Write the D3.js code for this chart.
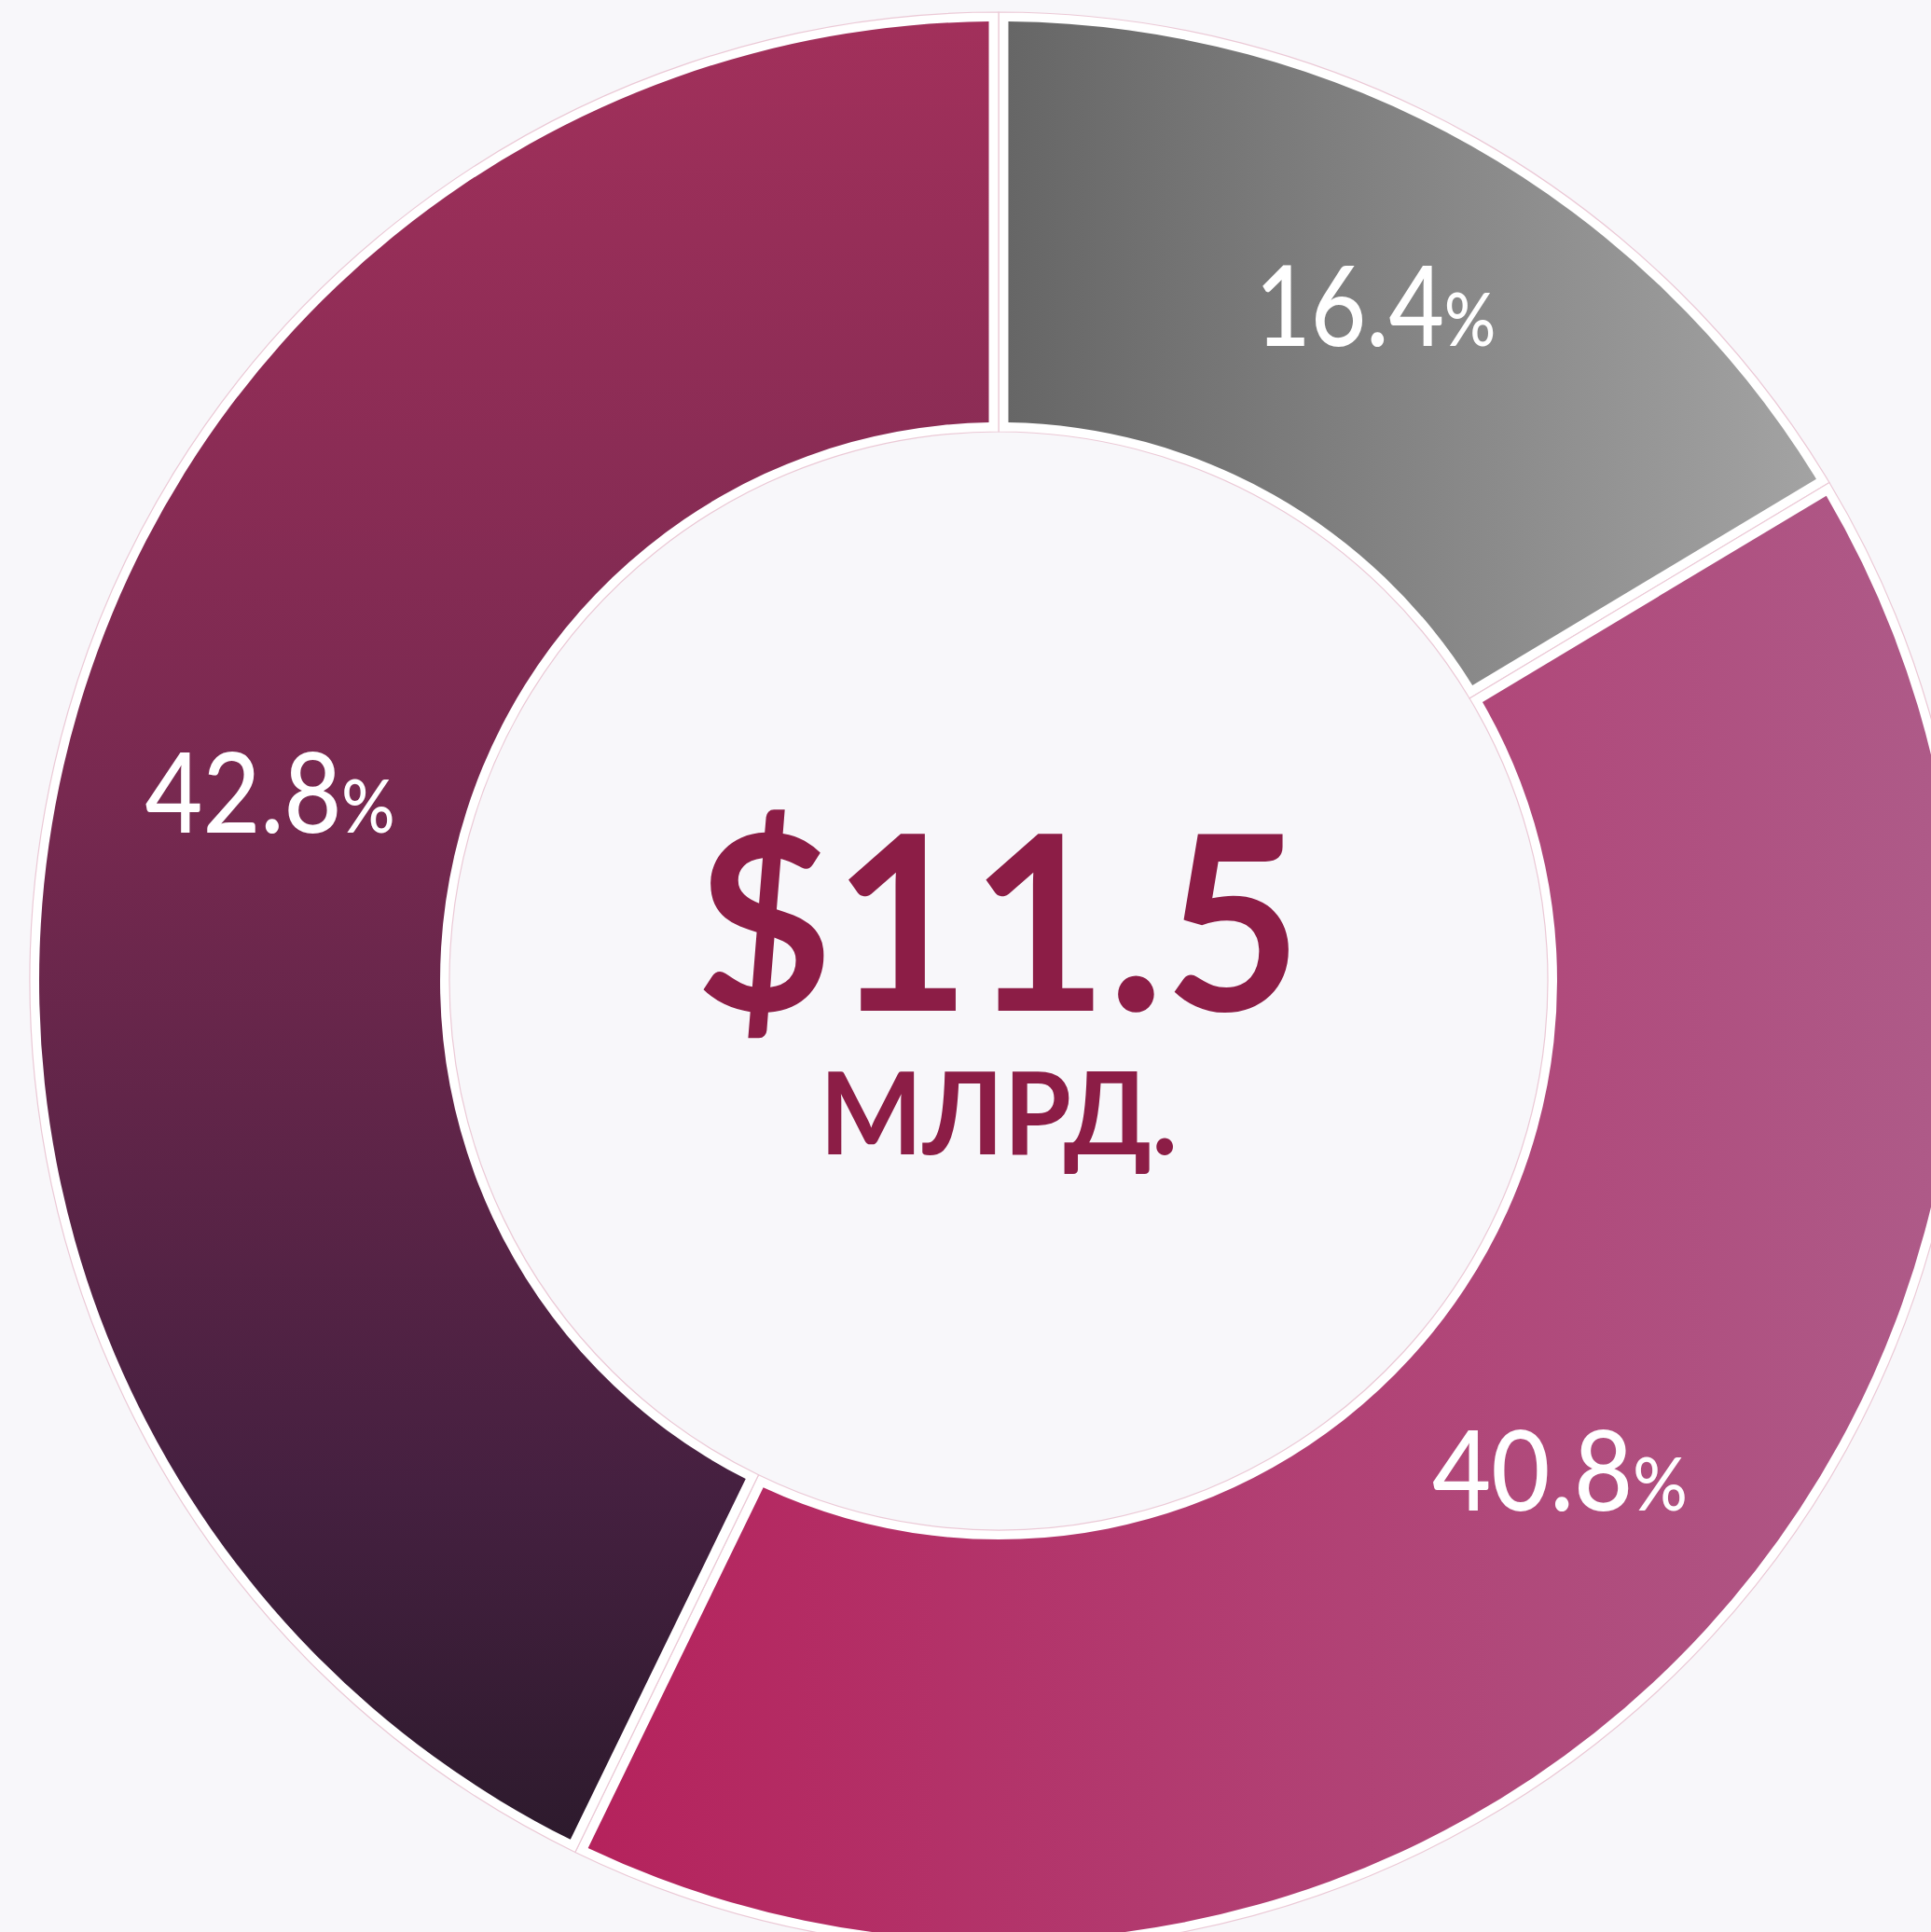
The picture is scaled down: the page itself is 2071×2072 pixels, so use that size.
<!DOCTYPE html>
<meta charset="utf-8">

<style>
html, body { margin: 0; padding: 0; background: #f8f7fa; }
svg { display: block; }
.pct { font-family: Lato, "Noto Sans", sans-serif; fill: #fff; font-weight: 500; }
.total { font-family: Lato, "Noto Sans", sans-serif; fill: #8c1d46; font-weight: 700; }
.unit { text-transform: uppercase; }
</style>

<svg width="2071" height="2072"></svg>

<script src="https://d3js.org/d3.v7.min.js"></script>

<script>

// shares of the total, clockwise from 12 o'clock
var labels = ["16.4", "40.8", "42.8"];
var shares = [16.4, 40.8, 42.8];
var fills = ["grad-gray", "grad-pink", "grad-dark"];
var totalValue = "$11.5";
var totalUnit = "млрд.";

var svg = d3.select("svg");
var width = +svg.attr("width"),
    height = +svg.attr("height");

svg.append("rect").attr("width", width).attr("height", height).attr("fill", "#f8f7fa");

var cx = 1071, cy = 1052;
var rOuter = 1039, rInner = 589, inset = 10;

var g = svg.append("g").attr("transform", "translate(" + cx + "," + cy + ")");

// gradients, in the group's own coordinates
var defs = svg.append("defs");

function linear(id, x1, y1, x2, y2, stops) {
  var lg = defs.append("linearGradient").attr("id", id)
      .attr("gradientUnits", "userSpaceOnUse")
      .attr("x1", x1).attr("y1", y1).attr("x2", x2).attr("y2", y2);
  stops.forEach(function(s) {
    lg.append("stop").attr("offset", s[0]).attr("stop-color", s[1]);
  });
}

linear("grad-gray", -20, 0, 920, 0, [[0, "#646464"], [1, "#a6a6a6"]]);
linear("grad-pink", -450, 0, 1000, 0, [[0, "#b5225c"], [1, "#ae5a88"]]);
linear("grad-dark", 0, -1030, 0, 940, [[0, "#a2305b"], [0.42, "#782950"], [0.8, "#452040"], [1, "#2c1a2c"]]);

var pie = d3.pie().sort(null).value(function(d) { return d; });
var arcs = pie(shares);

// white band with thin pink outline behind each slice
var band = d3.arc().innerRadius(rInner).outerRadius(rOuter);

g.selectAll("path.band").data(arcs).enter().append("path")
    .attr("class", "band")
    .attr("d", band)
    .attr("fill", "#ffffff")
    .attr("stroke", "#ebc9d6")
    .attr("stroke-width", 1.2);

// coloured slices, inset inside the band
var slice = d3.arc()
    .innerRadius(rInner + inset)
    .outerRadius(rOuter - inset)
    .padRadius(100)
    .padAngle(0.21);

g.selectAll("path.slice").data(arcs).enter().append("path")
    .attr("class", "slice")
    .attr("d", slice)
    .attr("fill", function(d, i) { return "url(#" + fills[i] + ")"; });

// percentage labels
var labelArc = d3.arc().innerRadius(808).outerRadius(808);
var labelWidths = [258, 274, 268];

g.selectAll("text.pct").data(arcs).enter().append("text")
    .attr("class", "pct")
    .attr("text-anchor", "middle")
    .attr("font-size", 120)
    .each(function(d, i) {
      var t = d3.select(this);
      t.append("tspan").text(labels[i]);
      t.append("tspan").attr("font-size", 80).text("%");
      var w = this.getComputedTextLength();
      var c = labelArc.centroid(d);
      t.attr("transform", "translate(" + (c[0] + 6) + "," + (c[1] + 22) + ") scale(" + (labelWidths[i] / w) + ",1)");
    });

// total in the middle
g.append("text")
    .attr("class", "total")
    .attr("text-anchor", "middle")
    .attr("x", 0)
    .attr("y", 32)
    .attr("font-size", 262)
    .attr("textLength", 650)
    .attr("lengthAdjust", "spacingAndGlyphs")
    .text(totalValue);

g.append("text")
    .attr("class", "total unit")
    .attr("text-anchor", "middle")
    .attr("x", 0)
    .attr("y", 186)
    .attr("font-size", 123)
    .attr("textLength", 384)
    .attr("lengthAdjust", "spacingAndGlyphs")
    .text(totalUnit);

</script>
